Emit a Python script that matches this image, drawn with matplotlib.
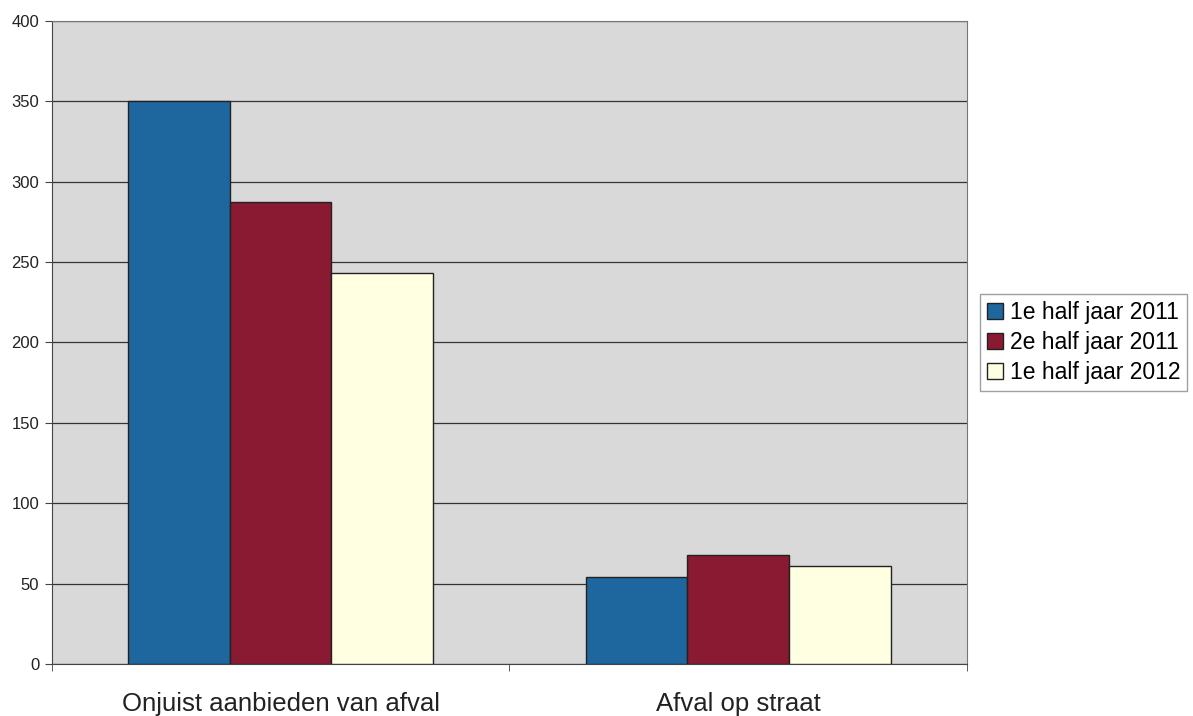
import matplotlib.pyplot as plt
import numpy as np

plt.rcParams['font.family'] = ['Liberation Sans', 'DejaVu Sans']

categories = ["Onjuist aanbieden van afval", "Afval op straat"]
series_names = ["1e half jaar 2011", "2e half jaar 2011", "1e half jaar 2012"]
values = [
    [350, 54],   # 1e half jaar 2011
    [287, 68],   # 2e half jaar 2011
    [243, 61],   # 1e half jaar 2012
]
colors = ["#1d679e", "#8a1a32", "#ffffe2"]

fig = plt.figure(figsize=(11.93, 7.16), dpi=100)
ax = fig.add_axes([0.0433, 0.0726, 0.7673, 0.8985])
ax.set_facecolor("#d9d9d9")

x = np.arange(len(categories))
width = 0.222
for i, (name, vals) in enumerate(zip(series_names, values)):
    ax.bar(x + (i - 1) * width, vals, width, color=colors[i], edgecolor="#222222",
           linewidth=1.0, label=name, zorder=3)

ax.set_xlim(-0.5, 1.5)
ax.set_ylim(0, 400)
ax.set_yticks(range(0, 401, 50))
ax.yaxis.grid(True, color="#333333", linewidth=0.9, zorder=1)
ax.set_axisbelow(True)

ax.set_xticks(x)
ax.set_xticklabels(categories, fontsize=18.5, color="#222222")
ax.tick_params(axis="x", which="major", length=0, pad=20)
ax.set_xticks([-0.5, 0.5, 1.5], minor=True)
ax.tick_params(axis="x", which="minor", length=5, color="#444444")
ax.tick_params(axis="y", labelsize=12, length=5, color="#444444", pad=4,
               labelcolor="#222222")

for side in ["left", "bottom"]:
    ax.spines[side].set_color("#444444")
for side in ["top", "right"]:
    ax.spines[side].set_color("#777777")

ax.legend(loc="center left", bbox_to_anchor=(1.014, 0.5), fontsize=16.5,
          frameon=True, fancybox=False, edgecolor="#888888",
          handlelength=0.7, handleheight=0.7, handletextpad=0.3,
          borderpad=0.3, labelspacing=0.3, borderaxespad=0)

fig.savefig("out.png", dpi=100)
